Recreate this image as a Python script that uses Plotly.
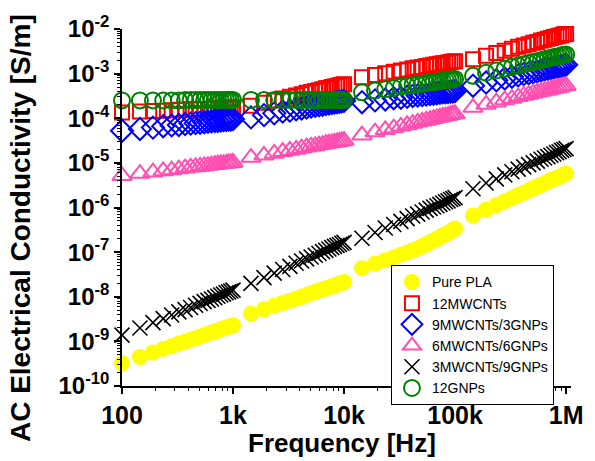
import plotly.graph_objects as go

# Frequency sweep (Hz): four measured segments, linear steps inside each decade
freq = [100, 145, 190, 235, 280, 325, 370, 415, 460, 505, 550, 595, 640, 685, 730, 775, 820, 865, 910, 955, 1000,
        1450, 1900, 2350, 2800, 3250, 3700, 4150, 4600, 5050, 5500, 5950, 6400, 6850, 7300, 7750, 8200, 8650, 9100, 9550, 10000,
        14500, 19000, 23500, 28000, 32500, 37000, 41500, 46000, 50500, 55000, 59500, 64000, 68500, 73000, 77500, 82000, 86500, 91000, 95500, 100000,
        145000, 190000, 235000, 280000, 325000, 370000, 415000, 460000, 505000, 550000, 595000, 640000, 685000, 730000, 775000, 820000, 865000, 910000, 955000, 1000000]

# log10 of AC conductivity (S/m)
pla_log = [-9.49, -9.35, -9.25, -9.17, -9.11, -9.05, -9.01, -8.96, -8.93, -8.89, -8.86, -8.83, -8.80, -8.78, -8.76, -8.73, -8.71, -8.69, -8.67, -8.66, -8.64,
           -8.38, -8.28, -8.20, -8.14, -8.09, -8.04, -8.00, -7.96, -7.92, -7.89, -7.86, -7.84, -7.81, -7.79, -7.77, -7.75, -7.73, -7.71, -7.69, -7.67,
           -7.36, -7.26, -7.18, -7.12, -7.06, -7.01, -6.96, -6.92, -6.87, -6.82, -6.78, -6.74, -6.70, -6.66, -6.63, -6.60, -6.57, -6.54, -6.50, -6.47,
           -6.18, -6.05, -5.95, -5.86, -5.79, -5.72, -5.67, -5.62, -5.57, -5.53, -5.49, -5.46, -5.42, -5.39, -5.36, -5.34, -5.31, -5.29, -5.26, -5.24]

mw12_log = [-3.87, -3.85, -3.84, -3.83, -3.82, -3.81, -3.81, -3.80, -3.80, -3.79, -3.79, -3.79, -3.78, -3.78, -3.78, -3.77, -3.77, -3.77, -3.76, -3.76, -3.76,
            -3.72, -3.65, -3.60, -3.56, -3.52, -3.49, -3.46, -3.43, -3.41, -3.39, -3.37, -3.35, -3.33, -3.32, -3.30, -3.29, -3.28, -3.26, -3.25, -3.24,
            -3.08, -3.03, -2.99, -2.96, -2.93, -2.91, -2.88, -2.86, -2.85, -2.83, -2.82, -2.80, -2.79, -2.78, -2.77, -2.76, -2.75, -2.74, -2.73, -2.72,
            -2.68, -2.60, -2.54, -2.49, -2.44, -2.40, -2.37, -2.34, -2.31, -2.29, -2.26, -2.24, -2.22, -2.20, -2.18, -2.17, -2.15, -2.14, -2.12, -2.11]

mw9g3_log = [-4.28, -4.24, -4.21, -4.18, -4.16, -4.15, -4.13, -4.12, -4.11, -4.10, -4.09, -4.08, -4.07, -4.06, -4.06, -4.05, -4.04, -4.04, -4.03, -4.03, -4.02,
             -3.98, -3.93, -3.89, -3.85, -3.83, -3.80, -3.78, -3.76, -3.74, -3.72, -3.71, -3.70, -3.68, -3.67, -3.66, -3.65, -3.64, -3.63, -3.62, -3.61,
             -3.64, -3.60, -3.58, -3.55, -3.54, -3.52, -3.50, -3.49, -3.48, -3.47, -3.46, -3.45, -3.44, -3.43, -3.42, -3.42, -3.41, -3.40, -3.40, -3.39,
             -3.27, -3.20, -3.15, -3.11, -3.07, -3.04, -3.01, -2.99, -2.97, -2.95, -2.93, -2.91, -2.89, -2.88, -2.86, -2.85, -2.84, -2.83, -2.81, -2.80]

mw6g6_log = [-5.29, -5.24, -5.21, -5.18, -5.16, -5.14, -5.12, -5.10, -5.09, -5.08, -5.07, -5.06, -5.05, -5.04, -5.03, -5.02, -5.02, -5.01, -5.00, -5.00, -4.99,
             -4.88, -4.83, -4.79, -4.75, -4.72, -4.70, -4.67, -4.65, -4.63, -4.62, -4.60, -4.59, -4.57, -4.56, -4.55, -4.54, -4.53, -4.52, -4.51, -4.50,
             -4.38, -4.31, -4.26, -4.22, -4.18, -4.15, -4.12, -4.09, -4.07, -4.05, -4.03, -4.01, -3.99, -3.98, -3.96, -3.95, -3.94, -3.92, -3.91, -3.90,
             -3.76, -3.69, -3.64, -3.59, -3.56, -3.52, -3.49, -3.47, -3.44, -3.42, -3.40, -3.38, -3.37, -3.35, -3.33, -3.32, -3.31, -3.29, -3.28, -3.27]

mw3g9_log = [-8.86, -8.70, -8.58, -8.49, -8.41, -8.34, -8.29, -8.24, -8.19, -8.15, -8.11, -8.08, -8.05, -8.02, -7.99, -7.96, -7.94, -7.91, -7.89, -7.87, -7.85,
             -7.70, -7.57, -7.47, -7.39, -7.32, -7.25, -7.20, -7.15, -7.11, -7.07, -7.03, -6.99, -6.96, -6.93, -6.90, -6.87, -6.85, -6.83, -6.80, -6.78,
             -6.69, -6.56, -6.46, -6.38, -6.31, -6.25, -6.19, -6.15, -6.10, -6.06, -6.02, -5.99, -5.96, -5.93, -5.90, -5.87, -5.85, -5.82, -5.80, -5.78,
             -5.58, -5.45, -5.36, -5.27, -5.20, -5.14, -5.09, -5.04, -5.00, -4.96, -4.92, -4.89, -4.86, -4.83, -4.80, -4.77, -4.75, -4.72, -4.70, -4.68]

g12_log = [-3.60, -3.60, -3.60, -3.60, -3.60, -3.60, -3.59, -3.59, -3.59, -3.59, -3.59, -3.59, -3.59, -3.59, -3.59, -3.59, -3.59, -3.59, -3.59, -3.59, -3.59,
           -3.59, -3.59, -3.59, -3.59, -3.59, -3.59, -3.59, -3.59, -3.59, -3.59, -3.59, -3.59, -3.59, -3.59, -3.59, -3.59, -3.59, -3.59, -3.59, -3.59,
           -3.42, -3.38, -3.35, -3.32, -3.29, -3.27, -3.26, -3.24, -3.23, -3.21, -3.20, -3.19, -3.18, -3.17, -3.16, -3.15, -3.14, -3.13, -3.13, -3.12,
           -3.05, -2.98, -2.93, -2.89, -2.85, -2.82, -2.79, -2.76, -2.74, -2.72, -2.70, -2.68, -2.66, -2.65, -2.63, -2.62, -2.61, -2.59, -2.58, -2.57]

names = ["Pure PLA", "12MWCNTs", "9MWCNTs/3GNPs", "6MWCNTs/6GNPs", "3MWCNTs/9GNPs", "12GNPs"]
series = [pla_log, mw12_log, mw9g3_log, mw6g6_log, mw3g9_log, g12_log]

x_ticks = [100, 1000, 10000, 100000, 1000000]
x_ticktext = ["100", "1k", "10k", "100k", "1M"]
y_exps = [-10, -9, -8, -7, -6, -5, -4, -3, -2]

styles = [
    dict(symbol="circle", size=16, color="#FFFF00", line=dict(width=0)),
    dict(symbol="square-open", size=14, color="#FF0000", line=dict(width=2, color="#FF0000")),
    dict(symbol="diamond-open", size=17, color="#0000FF", line=dict(width=2, color="#0000FF")),
    dict(symbol="triangle-up-open", size=17, color="#FF4FB0", line=dict(width=2, color="#FF4FB0")),
    dict(symbol="x-thin-open", size=15, color="#000000", line=dict(width=1.6, color="#000000")),
    dict(symbol="circle-open", size=16, color="#008000", line=dict(width=2, color="#008000")),
]

fig = go.Figure()
for name, vals, st in zip(names, series, styles):
    fig.add_trace(go.Scatter(x=freq, y=[10 ** v for v in vals], mode="markers", name=name,
                             marker=st, cliponaxis=False))

font_family = "Liberation Sans, Arial, sans-serif"
minor_x = [m * d for d in [100, 1000, 10000, 100000] for m in range(2, 10)]
minor_y = [m * 10.0 ** e for e in y_exps[:-1] for m in range(2, 10)]

fig.update_layout(
    width=595, height=461,
    margin=dict(l=122, r=14, t=28, b=75),
    paper_bgcolor="white", plot_bgcolor="white",
    font=dict(family=font_family, color="black"),
    showlegend=True,
    legend=dict(x=0.599, y=0.338, xanchor="left", yanchor="top",
                bgcolor="white", bordercolor="black", borderwidth=1,
                font=dict(size=14, family=font_family), tracegroupgap=0, itemsizing="trace",
                itemwidth=30),
    xaxis=dict(type="log", range=[2, 6.044], showgrid=False, zeroline=False,
               showline=True, linecolor="black", linewidth=1.5,
               ticks="outside", ticklen=6, tickwidth=1.5, tickcolor="black",
               tickmode="array", tickvals=x_ticks, ticktext=x_ticktext,
               tickfont=dict(size=25, family=font_family, weight="bold"),
               minor=dict(tickmode="array", tickvals=minor_x, ticks="outside", ticklen=3,
                          tickwidth=1, tickcolor="black", showgrid=False)),
    yaxis=dict(type="log", range=[-10, -2], showgrid=False, zeroline=False,
               showline=True, linecolor="black", linewidth=1.5,
               ticks="outside", ticklen=6, tickwidth=1.5, tickcolor="black",
               tickmode="array", tickvals=[10.0 ** e for e in y_exps],
               ticktext=["10<sup>%d</sup>" % e for e in y_exps],
               tickfont=dict(size=24, family=font_family, weight="bold"),
               minor=dict(tickmode="array", tickvals=minor_y, ticks="outside", ticklen=3,
                          tickwidth=1, tickcolor="black", showgrid=False)),
    annotations=[
        dict(text="<b>Frequency [Hz]</b>", xref="paper", yref="paper", x=0.49, y=-0.16,
             xanchor="center", yanchor="middle", showarrow=False,
             font=dict(size=26, family=font_family, color="black")),
        dict(text="<b>AC Electrical Conductivity [S/m]</b>", xref="paper", yref="paper",
             x=-0.226, y=0.441, xanchor="center", yanchor="middle", textangle=-90, showarrow=False,
             font=dict(size=28, family=font_family, color="black")),
    ],
)

fig.write_html("out.html")
